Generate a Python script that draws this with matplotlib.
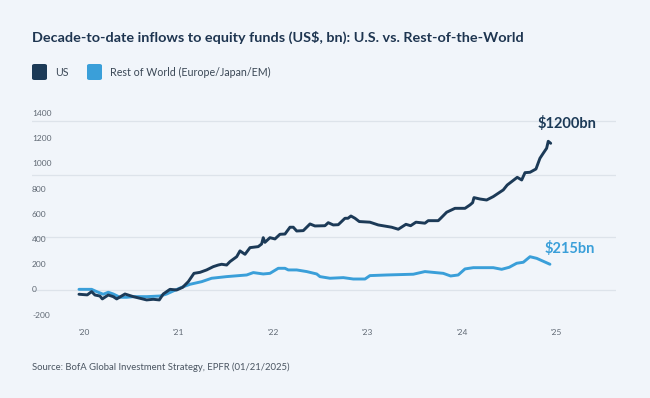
import matplotlib.pyplot as plt
from matplotlib.patches import FancyBboxPatch

# decade-to-date cumulative inflows, US$ bn
us_year = [2019.947, 2020.035, 2020.081, 2020.116, 2020.169, 2020.194, 2020.257, 2020.310,
           2020.346, 2020.434, 2020.522, 2020.593, 2020.663, 2020.733, 2020.797, 2020.839,
           2020.910, 2020.981, 2021.044, 2021.104, 2021.164, 2021.228, 2021.298, 2021.368,
           2021.421, 2021.457, 2021.510, 2021.545, 2021.616, 2021.651, 2021.704, 2021.757,
           2021.844, 2021.880, 2021.897, 2021.915, 2021.968, 2022.021, 2022.074, 2022.127,
           2022.180, 2022.215, 2022.251, 2022.321, 2022.392, 2022.444, 2022.550, 2022.585,
           2022.638, 2022.691, 2022.762, 2022.794, 2022.825, 2022.868, 2022.913, 2023.026,
           2023.114, 2023.256, 2023.326, 2023.407, 2023.457, 2023.513, 2023.608, 2023.643,
           2023.749, 2023.775, 2023.838, 2023.926, 2024.032, 2024.085, 2024.113, 2024.127,
           2024.190, 2024.261, 2024.331, 2024.437, 2024.479, 2024.526, 2024.585, 2024.632,
           2024.667, 2024.720, 2024.783, 2024.825, 2024.860, 2024.896, 2024.913, 2024.939]
us_val = [-34, -39, -13, -40, -48, -71, -40, -53,
          -71, -32, -53, -66, -79, -74, -79, -32,
          5, 0, 21, 66, 132, 140, 159, 185,
          198, 204, 198, 225, 264, 310, 283, 336,
          344, 365, 415, 378, 415, 405, 442, 444,
          498, 498, 468, 471, 524, 508, 510, 534,
          516, 518, 569, 569, 587, 569, 543, 538,
          516, 498, 482, 521, 510, 538, 530, 550,
          550, 569, 617, 648, 648, 675, 693, 733,
          722, 714, 741, 794, 833, 860, 894, 873,
          931, 934, 960, 1045, 1085, 1125, 1180, 1164]

row_year = [2019.947, 2020.081, 2020.134, 2020.204, 2020.257, 2020.310, 2020.381, 2020.452,
            2020.522, 2020.663, 2020.804, 2020.875, 2020.945, 2021.034, 2021.122, 2021.246,
            2021.351, 2021.510, 2021.722, 2021.792, 2021.897, 2021.968, 2022.056, 2022.127,
            2022.162, 2022.251, 2022.357, 2022.463, 2022.497, 2022.603, 2022.744, 2022.850,
            2022.974, 2023.026, 2023.203, 2023.485, 2023.608, 2023.802, 2023.880, 2023.960,
            2024.032, 2024.120, 2024.331, 2024.420, 2024.500, 2024.579, 2024.649, 2024.720,
            2024.791, 2024.931]
row_val = [5, 5, -13, -34, -18, -32, -58, -58,
           -53, -53, -48, -32, -8, 21, 45, 66,
           93, 106, 119, 138, 127, 132, 172, 172,
           159, 159, 146, 127, 106, 93, 98, 87,
           87, 114, 119, 125, 146, 132, 111, 119,
           167, 177, 177, 164, 180, 212, 220, 264,
           251, 204]

year_ticks = [2020, 2021, 2022, 2023, 2024, 2025]
year_labels = ["'20", "'21", "'22", "'23", "'24", "'25"]
y_labels = [-200, 0, 200, 400, 600, 800, 1000, 1200, 1400]
grid_vals = [0, 421, 913, 1341]

navy = '#1c3a57'
blue = '#3a9fd9'
bg = '#f1f5fa'
grey = '#5f6873'

fig = plt.figure(figsize=(6.5, 3.98), dpi=100, facecolor=bg)
ax = fig.add_axes([32 / 650, 1 - 325 / 398, 584 / 650, 220 / 398])
ax.set_facecolor(bg)
ax.set_xlim(2019.450, 2025.630)
ax.set_ylim(-278, 1468)

for g in grid_vals:
    ax.axhline(g, color='#dde3ea', lw=0.9, zorder=0)

ax.plot(row_year, row_val, color=blue, lw=2.1, solid_capstyle='round', zorder=2)
ax.plot(us_year, us_val, color=navy, lw=2.1, solid_capstyle='round', zorder=3)

for v in y_labels:
    ax.text(2019.45, v, str(v), ha='left', va='center', fontsize=6, color=grey,
            family='Lato')

ax.set_yticks([])
ax.set_xticks(year_ticks)
ax.set_xticklabels(year_labels, fontsize=6, color=grey, family='Lato')
ax.tick_params(axis='x', length=0, pad=3)
for s in ax.spines.values():
    s.set_visible(False)

ax.annotate('$1200bn', xy=(us_year[-1], us_val[-1]), xytext=(11.5, 14),
            textcoords='offset points', ha='center', va='center',
            fontsize=10.5, fontweight='bold', color=navy, family='Lato')
ax.annotate('$215bn', xy=(row_year[-1], row_val[-1]), xytext=(14.5, 11),
            textcoords='offset points', ha='center', va='center',
            fontsize=10.5, fontweight='bold', color=blue, family='Lato')

fig.text(32 / 650, 1 - 37 / 398,
         'Decade-to-date inflows to equity funds (US$, bn): U.S. vs. Rest-of-the-World',
         ha='left', va='center', fontsize=10.4, fontweight='bold', color='#1e3550',
         family='Lato')

# legend swatches
for x0, c in [(32, navy), (87, blue)]:
    fig.patches.append(FancyBboxPatch((x0 / 650, 1 - 80 / 398), 15 / 650, 16 / 398,
                                      boxstyle='round,pad=0,rounding_size=0.004',
                                      transform=fig.transFigure, facecolor=c,
                                      edgecolor='none'))
fig.text(55 / 650, 1 - 72 / 398, 'US', ha='left', va='center', fontsize=7.7,
         color='#3b4856', family='Lato')
fig.text(110 / 650, 1 - 72 / 398, 'Rest of World (Europe/Japan/EM)', ha='left',
         va='center', fontsize=7.7, color='#3b4856', family='Lato')

fig.text(32 / 650, 1 - 367 / 398, 'Source: BofA Global Investment Strategy, EPFR (01/21/2025)',
         ha='left', va='center', fontsize=6.8, color='#4a5561', family='Lato')

fig.savefig('out.png', dpi=100, facecolor=bg)
